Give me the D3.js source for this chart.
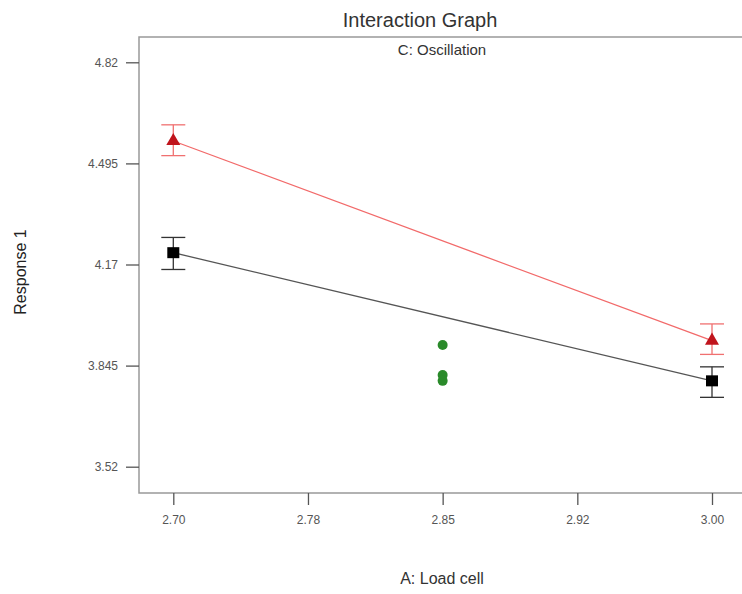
<!DOCTYPE html>
<html>
<head>
<meta charset="utf-8">
<script src="https://cdn.jsdelivr.net/npm/d3@7"></script>
<style>
    body { margin: 0; background: #fff; }
    svg { display: block; font-family: "Liberation Sans", Arial, sans-serif; }
</style>
</head>
<body>
<div id="chart"></div>
<script>
// factor A levels and tick labels
const xTicks = [2.70, 2.775, 2.85, 2.925, 3.00];
const xTickLabels = ['2.70', '2.78', '2.85', '2.92', '3.00'];
const yTicks = [3.52, 3.845, 4.17, 4.495, 4.82];
const yTickLabels = ['3.52', '3.845', '4.17', '4.495', '4.82'];

// C: Oscillation, high level (red triangles)
const highX = [2.70, 3.00];
const highMean = [4.567, 3.925];
const highLow = [4.520, 3.881];
const highHigh = [4.619, 3.979];

// C: Oscillation, low level (black squares)
const lowX = [2.70, 3.00];
const lowMean = [4.208, 3.796];
const lowLow = [4.154, 3.743];
const lowHigh = [4.257, 3.841];

// centre points (green)
const centerX = [2.85, 2.85, 2.85];
const centerY = [3.911, 3.815, 3.796];

const width = 742, height = 594;
const frame = { left: 139, top: 37, right: 760, bottom: 493 };

const svg = d3.select('#chart').append('svg')
    .attr('width', width)
    .attr('height', height);

const x = d3.scaleLinear().domain([2.70, 3.00]).range([173.3, 712]);
const y = d3.scaleLinear().domain([3.52, 4.82]).range([466.7, 62.3]);

// frame
svg.append('rect')
    .attr('x', frame.left)
    .attr('y', frame.top)
    .attr('width', frame.right - frame.left)
    .attr('height', frame.bottom - frame.top)
    .attr('fill', 'none')
    .attr('stroke', '#999')
    .attr('stroke-width', 1.5);

// axes
const xAxis = svg.append('g')
    .attr('transform', `translate(0,${frame.bottom})`)
    .call(d3.axisBottom(x).tickValues(xTicks)
        .tickFormat((d, i) => xTickLabels[i]).tickSize(12).tickPadding(10));
const yAxis = svg.append('g')
    .attr('transform', `translate(${frame.left},0)`)
    .call(d3.axisLeft(y).tickValues(yTicks)
        .tickFormat((d, i) => yTickLabels[i]).tickSize(13).tickPadding(8));

[xAxis, yAxis].forEach(a => {
    a.select('.domain').remove();
    a.selectAll('.tick line').attr('stroke', '#555').attr('stroke-width', 1.3);
    a.selectAll('.tick text')
        .style('font-size', '12px')
        .style('fill', '#555')
        .style('font-family', '"Liberation Sans", Arial, sans-serif');
});

// titles
svg.append('text')
    .attr('x', 420).attr('y', 27)
    .attr('text-anchor', 'middle')
    .style('font-size', '20px')
    .style('fill', '#333')
    .text('Interaction Graph');
svg.append('text')
    .attr('x', 442).attr('y', 55)
    .attr('text-anchor', 'middle')
    .style('font-size', '15px')
    .style('fill', '#333')
    .text('C: Oscillation');
svg.append('text')
    .attr('x', 442).attr('y', 584)
    .attr('text-anchor', 'middle')
    .style('font-size', '16px')
    .style('fill', '#333')
    .text('A: Load cell');
svg.append('text')
    .attr('transform', 'translate(26,272) rotate(-90)')
    .attr('text-anchor', 'middle')
    .style('font-size', '16px')
    .style('fill', '#222')
    .text('Response 1');

const line = d3.line().x(d => x(d[0])).y(d => y(d[1]));

function drawSeries(xs, means, lows, highs, lineColor, barColor) {
    const pts = xs.map((v, i) => [v, means[i]]);
    svg.append('path')
        .attr('d', line(pts))
        .attr('fill', 'none')
        .attr('stroke', lineColor)
        .attr('stroke-width', 1.3);
    const g = svg.append('g');
    xs.forEach((v, i) => {
        const cx = x(v);
        g.append('line')
            .attr('x1', cx).attr('x2', cx)
            .attr('y1', y(lows[i])).attr('y2', y(highs[i]))
            .attr('stroke', barColor).attr('stroke-width', 1.3);
        [lows[i], highs[i]].forEach(e => {
            g.append('line')
                .attr('x1', cx - 12).attr('x2', cx + 12)
                .attr('y1', y(e)).attr('y2', y(e))
                .attr('stroke', barColor).attr('stroke-width', 1.3);
        });
    });
    return pts;
}

const highPts = drawSeries(highX, highMean, highLow, highHigh, '#f26a6a', '#f07070');
const lowPts = drawSeries(lowX, lowMean, lowLow, lowHigh, '#555', '#333');

svg.selectAll('.tri')
    .data(highPts)
    .enter().append('path')
    .attr('class', 'tri')
    .attr('transform', d => `translate(${x(d[0])},${y(d[1])})`)
    .attr('d', d3.symbol().type(d3.symbolTriangle).size(85))
    .attr('fill', '#c0141c');

svg.selectAll('.sq')
    .data(lowPts)
    .enter().append('rect')
    .attr('class', 'sq')
    .attr('x', d => x(d[0]) - 6)
    .attr('y', d => y(d[1]) - 5.5)
    .attr('width', 12)
    .attr('height', 11)
    .attr('fill', '#000');

svg.selectAll('.ctr')
    .data(centerX.map((v, i) => [v, centerY[i]]))
    .enter().append('circle')
    .attr('class', 'ctr')
    .attr('cx', d => x(d[0]))
    .attr('cy', d => y(d[1]))
    .attr('r', 5)
    .attr('fill', '#2a8a2a');
</script>
</body>
</html>
